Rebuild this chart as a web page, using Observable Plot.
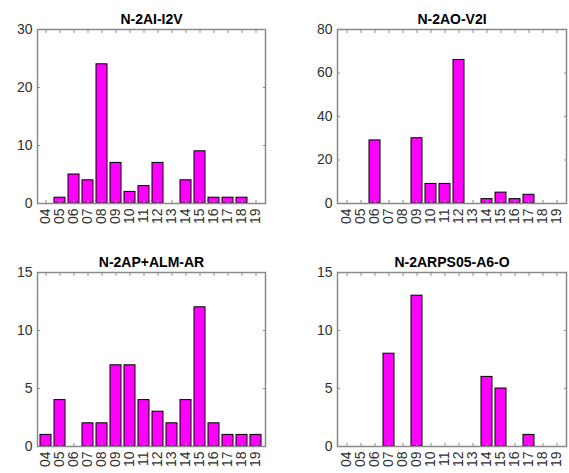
<!DOCTYPE html>
<html>
<head>
<meta charset="utf-8">
<script src="https://cdn.jsdelivr.net/npm/d3@7"></script>
<script src="https://cdn.jsdelivr.net/npm/@observablehq/plot@0.6"></script>
<style>
  body { margin: 0; background: #fff; }
  #chart { position: relative; width: 569px; height: 473px; background: #fff; }
  #chart svg { position: absolute; }
</style>
</head>
<body>
<div id="chart"></div>
<script>
// Year labels shared by all four panels
const years = ["04","05","06","07","08","09","10","11","12","13","14","15","16","17","18","19"];

// Counts per year for each group
const countsAI_I2V   = [0, 1, 5, 4, 24, 7, 2, 3, 7, 0, 4, 9, 1, 1, 1, 0];
const countsAO_V2I   = [0, 0, 29, 0, 0, 30, 9, 9, 66, 0, 2, 5, 2, 4, 0, 0];
const countsAP_ALM   = [1, 4, 0, 2, 2, 7, 7, 4, 3, 2, 4, 12, 2, 1, 1, 1];
const countsARPS05   = [0, 0, 0, 8, 0, 13, 0, 0, 0, 0, 6, 5, 0, 1, 0, 0];

const titles = ["N-2AI-I2V", "N-2AO-V2I", "N-2AP+ALM-AR", "N-2ARPS05-A6-O"];
const yTicks = [[0, 10, 20, 30], [0, 20, 40, 60, 80], [0, 5, 10, 15], [0, 5, 10, 15]];

const series = [countsAI_I2V, countsAO_V2I, countsAP_ALM, countsARPS05];

// Placement of each small chart in the 2x2 grid
const layout = [
  {left: 0,   top: 0,   width: 285, height: 236, marginLeft: 37, marginRight: 20, marginTop: 29, marginBottom: 33},
  {left: 285, top: 0,   width: 284, height: 236, marginLeft: 52, marginRight: 3,  marginTop: 29, marginBottom: 33},
  {left: 0,   top: 236, width: 285, height: 237, marginLeft: 37, marginRight: 20, marginTop: 36, marginBottom: 27},
  {left: 285, top: 236, width: 284, height: 237, marginLeft: 52, marginRight: 3,  marginTop: 36, marginBottom: 27}
];

const container = document.getElementById("chart");
const boxColor = "#8a8a8a";
const textColor = "#303030";

series.forEach((values, i) => {
  const rows = years.map((year, j) => ({year, count: values[j]})).filter(d => d.count > 0);
  const ticks = yTicks[i];
  const L = layout[i];
  const svg = Plot.plot({
    width: L.width,
    height: L.height,
    marginLeft: L.marginLeft,
    marginRight: L.marginRight,
    marginTop: L.marginTop,
    marginBottom: L.marginBottom,
    style: {fontFamily: "'Liberation Sans', Arial, sans-serif", fontSize: "14px", color: textColor, background: "transparent"},
    x: {type: "band", domain: years, paddingInner: 0.2, paddingOuter: 0.1, label: null},
    y: {domain: [0, ticks[ticks.length - 1]], label: null},
    marks: [
      Plot.barY(rows, {x: "year", y: "count", fill: "#ff00ff", stroke: "#000", strokeWidth: 1}),
      Plot.frame({stroke: boxColor, strokeWidth: 1.5}),
      Plot.axisY(ticks, {anchor: "left", tickSize: -3, tickPadding: 8, stroke: boxColor, fill: textColor, fontSize: 14, label: null}),
      Plot.axisY(ticks, {anchor: "right", tickSize: -3, tickFormat: () => "", stroke: boxColor, label: null}),
      Plot.axisX(years, {anchor: "bottom", tickSize: -3, tickPadding: 8, tickRotate: -90, stroke: boxColor, fill: textColor, fontSize: 14, label: null}),
      Plot.axisX(years, {anchor: "top", tickSize: -3, tickFormat: () => "", stroke: boxColor, label: null}),
      Plot.text([titles[i]], {frameAnchor: "top", lineAnchor: "bottom", dy: -6, fontWeight: "bold", fontSize: 14, fill: "#000"})
    ]
  });
  svg.style.left = L.left + "px";
  svg.style.top = L.top + "px";
  container.appendChild(svg);
});
</script>
</body>
</html>
